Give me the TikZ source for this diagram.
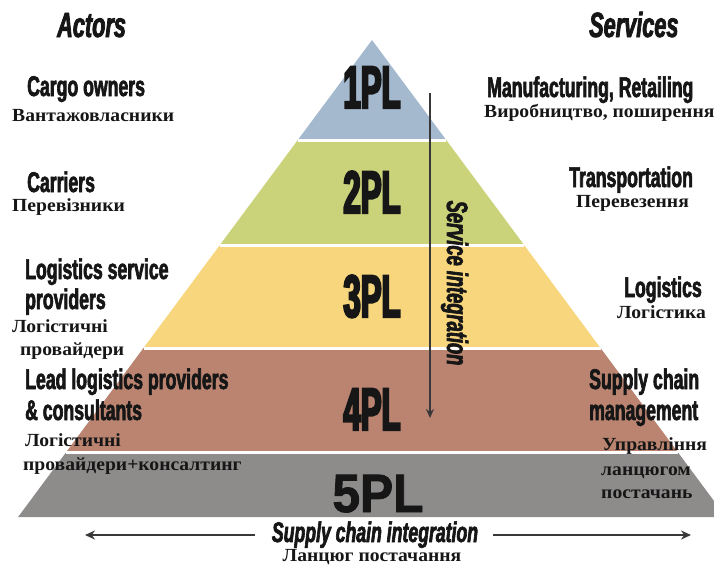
\documentclass[tikz,border=0pt]{standalone}
\usepackage{fontspec}
\usetikzlibrary{arrows.meta}
\newfontfamily\engf[FakeStretch=0.62,FakeBold=2.2]{Liberation Sans Bold}
\newfontfamily\engif[FakeStretch=0.62,FakeBold=2.2]{Liberation Sans Bold Italic}
\newfontfamily\plf[FakeStretch=0.52,FakeBold=3.5]{Liberation Sans Bold}
\newfontfamily\fivef[FakeStretch=0.92,FakeBold=1.5]{Liberation Sans Bold}
\newfontfamily\cyrf[FakeStretch=1.06]{Liberation Serif Bold}
\definecolor{cA}{RGB}{164,184,206}
\definecolor{cB}{RGB}{202,210,122}
\definecolor{cC}{RGB}{247,214,126}
\definecolor{cD}{RGB}{186,132,113}
\definecolor{cE}{RGB}{142,139,139}
\definecolor{txt}{RGB}{22,22,22}
\definecolor{arrowc}{RGB}{56,56,56}
\tikzset{
  eng/.style={font=\engf\fontsize{28.5}{30}\selectfont, anchor=base west, inner sep=0pt, text=txt},
  cyr/.style={font=\cyrf\fontsize{18.5}{20}\selectfont, anchor=base west, inner sep=0pt, text=txt},
  ttl/.style={font=\engif\fontsize{35}{37}\selectfont, anchor=base west, inner sep=0pt, text=txt},
  itl/.style={font=\engif\fontsize{28.5}{30}\selectfont, anchor=base, inner sep=0pt, text=txt},
  pl/.style={font=\plf\fontsize{60}{62}\selectfont, anchor=base, inner sep=0pt, text=txt},
  sepline/.style={white, line width=3pt},
  arr/.style={-{Stealth[length=10pt,width=9pt]}, line width=2.6pt, draw=arrowc},
  varr/.style={-{Stealth[length=9pt,width=8pt]}, line width=2pt, draw=arrowc}
}
\begin{document}
\begin{tikzpicture}[x=1pt,y=-1pt]
\useasboundingbox (0,0) rectangle (714,568);
\begin{scope}
\clip (0,0) rectangle (714,568);
% pyramid bands
\fill[cA] (372,40) -- (446.2,140) -- (297.8,140) -- cycle;
\fill[cB] (297.8,140) -- (446.2,140) -- (524.1,245) -- (219.9,245) -- cycle;
\fill[cC] (219.9,245) -- (524.1,245) -- (600.5,348) -- (143.5,348) -- cycle;
\fill[cD] (143.5,348) -- (600.5,348) -- (677.7,452) -- (66.3,452) -- cycle;
\fill[cE] (66.3,452) -- (677.7,452) -- (725.9,517) -- (18.1,517) -- cycle;
\draw[sepline] (297.8,140) -- (446.2,140);
\draw[sepline] (219.9,245) -- (524.1,245);
\draw[sepline] (143.5,348) -- (600.5,348);
\draw[sepline] (66.3,452) -- (677.7,452);
\end{scope}

% level labels
\node[pl] (p1) at (372,108) {1PL};
\node[pl] (p2) at (372,213) {2PL};
\node[pl] (p3) at (372,317) {3PL};
\node[pl] (p4) at (372,430) {4PL};
\node[font=\fivef\fontsize{54}{56}\selectfont, anchor=base, inner sep=0pt, text=txt] (p5) at (378,512) {5PL};

% service integration arrow
\coordinate (vs) at (430,93);
\coordinate (ve) at (430,418);
\draw[varr] (vs) -- (ve);
\node[font=\engif\fontsize{29.5}{31}\selectfont, anchor=base, inner sep=0pt, text=txt, rotate=-90] (si) at (447,283) {Service integration};

% titles
\node[ttl] (actors) at (57,37) {Actors};
\node[ttl] (services) at (589,37) {Services};

% left labels
\node[eng] (l1) at (27,96) {Cargo owners};
\node[cyr] (l1c) at (12,121) {Вантажовласники};
\node[eng] (l2) at (27,192) {Carriers};
\node[cyr] (l2c) at (12,211) {Перевізники};
\node[eng] (l3) at (25,279) {Logistics service};
\node[eng] (l3b) at (25,309) {providers};
\node[cyr] (l3c) at (12,332) {Логістичні};
\node[cyr] (l3d) at (20,355) {провайдери};
\node[eng] (l4) at (25,389) {Lead logistics providers};
\node[eng] (l4b) at (25,420) {\& consultants};
\node[cyr] (l4c) at (25,446) {Логістичні};
\node[cyr] (l4d) at (23,470) {провайдери+консалтинг};

% right labels
\node[eng] (r1) at (487,97) {Manufacturing, Retailing};
\node[cyr] (r1c) at (484,117) {Виробництво, поширення};
\node[eng] (r2) at (569,187) {Transportation};
\node[cyr] (r2c) at (576,207) {Перевезення};
\node[eng] (r3) at (624,297) {Logistics};
\node[cyr] (r3c) at (617,318) {Логістика};
\node[eng] (r4) at (589,389) {Supply chain};
\node[eng] (r4b) at (589,420) {management};
\node[cyr] (r4c) at (602,450) {Управління};
\node[cyr] (r4d) at (601,475) {ланцюгом};
\node[cyr] (r4e) at (601,498) {постачань};

% bottom
\node[itl] (sci) at (375,542) {Supply chain integration};
\node[font=\cyrf\fontsize{18.5}{20}\selectfont, anchor=base, inner sep=0pt, text=txt] (scic) at (372,561) {Ланцюг постачання};
\coordinate (hl1) at (255,535);
\coordinate (hl2) at (85,535);
\coordinate (hr1) at (493,535);
\coordinate (hr2) at (691,535);
\draw[arr] (hl1) -- (hl2);
\draw[arr] (hr1) -- (hr2);
\end{tikzpicture}
\end{document}
